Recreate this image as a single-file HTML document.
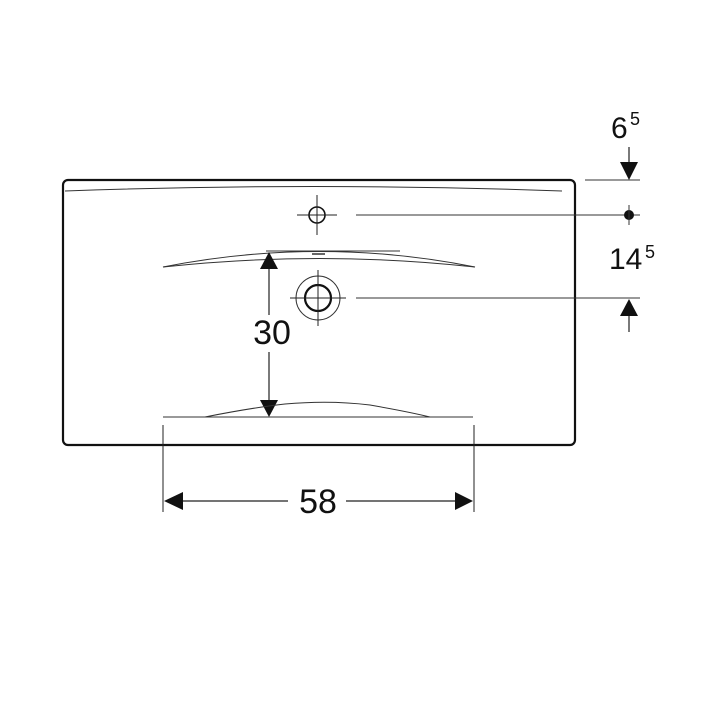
<!DOCTYPE html>
<html><head><style>html,body{margin:0;padding:0;background:#fff}svg{display:block}</style></head><body>
<svg width="718" height="718" viewBox="0 0 718 718" xmlns="http://www.w3.org/2000/svg" font-family="Liberation Sans, sans-serif">
<rect width="718" height="718" fill="#fff"/>
<rect x="63" y="180" width="512" height="265" rx="5" fill="none" stroke="#111" stroke-width="2.2"/>
<path d="M65 191 Q314 182 562 191" fill="none" stroke="#333" stroke-width="1"/>
<!-- tap hole -->
<circle cx="317" cy="215" r="8" fill="none" stroke="#111" stroke-width="1.6"/>
<line x1="297" y1="215" x2="337" y2="215" stroke="#222" stroke-width="1"/>
<line x1="317" y1="195" x2="317" y2="235" stroke="#222" stroke-width="1"/>
<line x1="356" y1="215" x2="640" y2="215" stroke="#333" stroke-width="1"/>
<circle cx="629" cy="215" r="5" fill="#111"/>
<line x1="629" y1="205" x2="629" y2="225" stroke="#333" stroke-width="1"/>
<!-- upper arch -->
<path d="M163 267 Q320 236 475 267" fill="none" stroke="#333" stroke-width="1"/>
<path d="M163 267 Q320 250 475 267" fill="none" stroke="#333" stroke-width="1"/>
<line x1="266" y1="251" x2="400" y2="251" stroke="#333" stroke-width="1"/>
<line x1="312" y1="254" x2="325" y2="254" stroke="#333" stroke-width="1.5"/>
<!-- drain -->
<circle cx="318" cy="298" r="13" fill="none" stroke="#111" stroke-width="2.2"/>
<circle cx="318" cy="298" r="22" fill="none" stroke="#333" stroke-width="1"/>
<line x1="290" y1="298" x2="346" y2="298" stroke="#222" stroke-width="1"/>
<line x1="318" y1="270" x2="318" y2="326" stroke="#222" stroke-width="1"/>
<line x1="356" y1="298" x2="640" y2="298" stroke="#333" stroke-width="1"/>
<!-- right dims -->
<text x="611" y="138" font-size="30" fill="#111">6</text><text x="630" y="125" font-size="18" fill="#111">5</text>
<line x1="629" y1="147" x2="629" y2="165" stroke="#222" stroke-width="1.2"/>
<polygon points="620,162 638,162 629,180" fill="#111"/>
<line x1="585" y1="180" x2="640" y2="180" stroke="#333" stroke-width="1"/>
<text x="609" y="269" font-size="30" fill="#111">14</text><text x="645" y="258" font-size="18" fill="#111">5</text>
<polygon points="620,316 638,316 629,299" fill="#111"/>
<line x1="629" y1="316" x2="629" y2="332" stroke="#222" stroke-width="1.2"/>
<!-- 30 dim -->
<line x1="269" y1="268" x2="269" y2="315" stroke="#222" stroke-width="1.2"/>
<line x1="269" y1="352" x2="269" y2="400" stroke="#222" stroke-width="1.2"/>
<polygon points="260,269 278,269 269,252" fill="#111"/>
<polygon points="260,400 278,400 269,417" fill="#111"/>
<text x="272" y="344" font-size="34" text-anchor="middle" fill="#111">30</text>
<!-- bottom arch -->
<line x1="163" y1="417" x2="473" y2="417" stroke="#333" stroke-width="1"/>
<path d="M205 417 Q250 408 285 404 Q330 400 370 405 Q410 412 430 417" fill="none" stroke="#333" stroke-width="1"/>
<!-- 58 dim -->
<line x1="163" y1="425" x2="163" y2="512" stroke="#222" stroke-width="1"/>
<line x1="474" y1="425" x2="474" y2="512" stroke="#222" stroke-width="1"/>
<line x1="180" y1="501" x2="288" y2="501" stroke="#222" stroke-width="1.2"/>
<line x1="346" y1="501" x2="457" y2="501" stroke="#222" stroke-width="1.2"/>
<polygon points="164,501 183,492 183,510" fill="#111"/>
<polygon points="473,501 455,492 455,510" fill="#111"/>
<text x="318" y="513" font-size="34" text-anchor="middle" fill="#111">58</text>
</svg>
</body></html>
